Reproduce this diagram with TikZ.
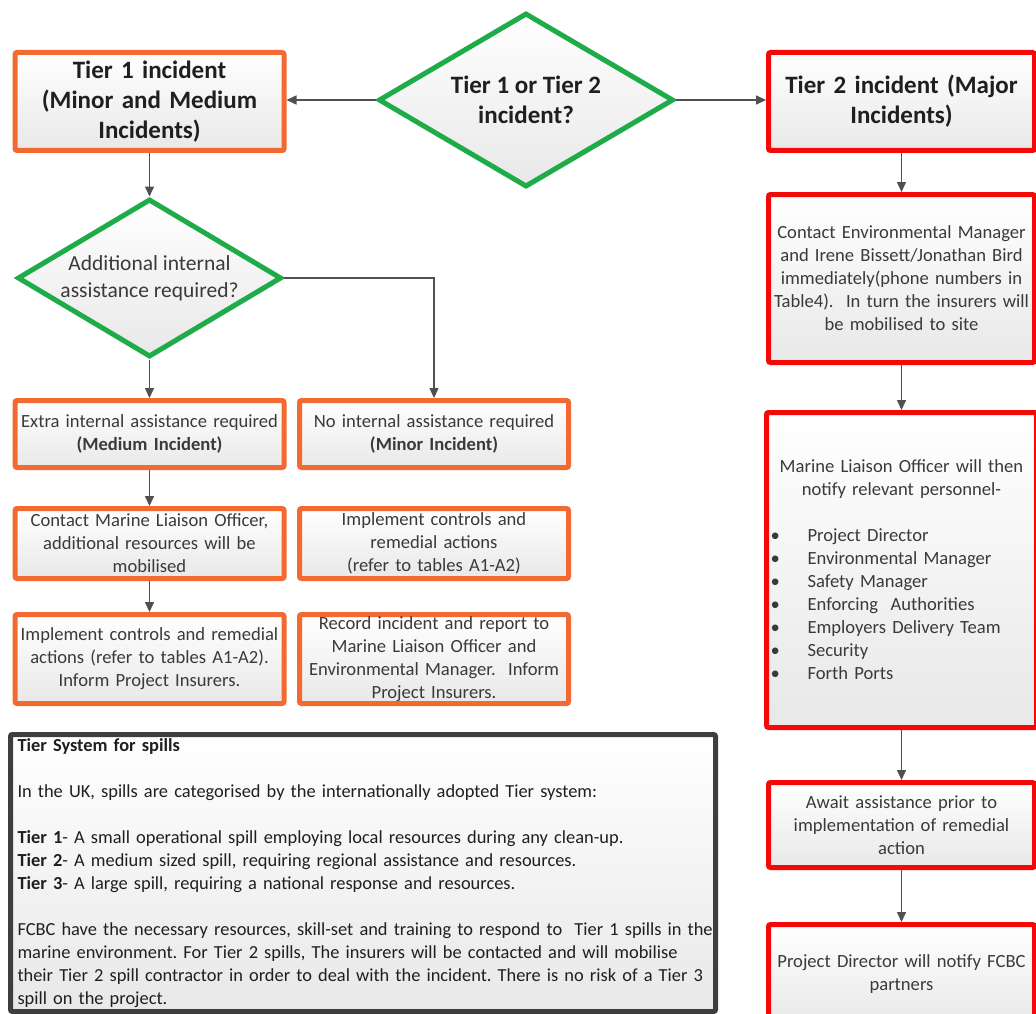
\documentclass[tikz,border=0pt]{standalone}
\usepackage{fontspec}
\setmainfont{Carlito}
\frenchspacing
\usepackage{tikz}
\usetikzlibrary{shapes.geometric}
\usetikzlibrary{arrows.meta,shadows}
\definecolor{tierorange}{RGB}{242,106,50}
\definecolor{tiergreen}{RGB}{30,172,72}
\definecolor{tierred}{RGB}{245,8,8}
\definecolor{notegrey}{RGB}{62,62,62}
\definecolor{linkgrey}{RGB}{80,80,80}
\definecolor{txtgrey}{RGB}{58,58,58}
\tikzstyle{flow}=[
  >={Triangle[length=10pt,width=9pt]},x=1pt,y=-1pt,font=\fontsize{18.6}{23}\selectfont
]
\tikzstyle{flowbox}=[
  rectangle,rounded corners=2pt,line width=5pt,top color=white,bottom color=black!9,
  drop shadow={shadow xshift=2pt,shadow yshift=-2pt,opacity=0.2},
  text=txtgrey,align=center,inner sep=0pt
]
\tikzstyle{minorbox}=[
  flowbox,draw=tierorange,minimum width=269pt,text width=268pt
]
\tikzstyle{majorbox}=[
  flowbox,draw=tierred,minimum width=266pt,text width=265pt
]
\tikzstyle{titletext}=[
  text=black!88,font=\bfseries\fontsize{25}{30}\selectfont
]
\tikzstyle{decision}=[
  diamond,draw=tiergreen,line width=5pt,top color=white,bottom color=black!9,
  drop shadow={shadow xshift=2pt,shadow yshift=-2pt,opacity=0.2},
  align=center,inner sep=0pt,aspect=1.7
]
\tikzstyle{notebox}=[
  flowbox,draw=notegrey,minimum width=705pt,minimum height=277pt,
  text width=705pt,align=left,text=black!88,inner xsep=0pt,
  font=\fontsize{18.4}{23}\selectfont
]
\tikzstyle{flowlink}=[
  ->,line width=1.5pt,draw=linkgrey
]
\newcommand{\blt}{\makebox[37pt][l]{\textbullet}}

\begin{document}
\begin{tikzpicture}[flow]
  \clip (0,0) rectangle (1036,1014);
  \fill[white] (0,0) rectangle (1036,1014);

  % top row
  \node (q) [decision,minimum width=295pt,minimum height=174pt,text=black!88,
    font=\bfseries\fontsize{25}{30}\selectfont] at (526,100)
    {Tier 1 or Tier 2\\ incident?};
  \node (t1) [minorbox,titletext,minimum height=98pt] at (149.5,101.5)
    {Tier 1 incident\\ (Minor and Medium\\ Incidents)};
  \node (t2) [majorbox,titletext,minimum height=98pt] at (901.5,101.5)
    {Tier 2 incident (Major\\ Incidents)};

  % tier 1 branch
  \node (d2) [decision,minimum width=264pt,minimum height=158pt,text=txtgrey,
    font=\fontsize{21.5}{27}\selectfont] at (149.5,278)
    {Additional internal\\ assistance required?};
  \node (ext) [minorbox,minimum height=67pt] at (149.5,434)
    {Extra internal assistance required\\ \textbf{(Medium Incident)}};
  \node (noint) [minorbox,minimum height=67pt] at (434,434)
    {No internal assistance required\\ \textbf{(Minor Incident)}};
  \node (cml) [minorbox,minimum height=70pt] at (149.5,543.5)
    {Contact Marine Liaison Officer,\\ additional resources will be\\ mobilised};
  \node (impa) [minorbox,minimum height=70pt] at (434,543.5)
    {Implement controls and\\ remedial actions\\ (refer to tables A1-A2)};
  \node (impb) [minorbox,minimum height=89pt] at (149.5,659)
    {Implement controls and remedial\\ actions (refer to tables A1-A2).\\ Inform Project Insurers.};
  \node (rec) [minorbox,minimum height=89pt] at (434,659)
    {Record incident and report to\\ Marine Liaison Officer and\\ Environmental Manager.\ \ Inform\\ Project Insurers.};

  % tier 2 branch
  \node (r2) [majorbox,minimum height=168pt] at (901.5,278.5)
    {Contact Environmental Manager\\ and Irene Bissett/Jonathan Bird\\ immediately(phone numbers in\\ Table4).\ \ In turn the insurers will\\ be mobilised to site};
  \node (r3) [majorbox,minimum height=315pt,align=left,inner xsep=4pt,text width=262pt] at (901.5,570)
    {\makebox[262pt][c]{Marine Liaison Officer will then}\\
     \makebox[262pt][c]{notify relevant personnel-}\\[23pt]
     \blt Project Director\\
     \blt Environmental Manager\\
     \blt Safety Manager\\
     \blt Enforcing\ \ Authorities\\
     \blt Employers Delivery Team\\
     \blt Security\\
     \blt Forth Ports};
  \node (r4) [majorbox,minimum height=85pt] at (901.5,825)
    {Await assistance prior to\\ implementation of remedial\\ action};
  \node (r5) [majorbox,minimum height=100pt] at (901.5,974.5)
    {Project Director will notify FCBC\\ partners\\[12pt]};

  % spill tiers note
  \node (note) [notebox] at (363,873)
    {\hspace*{7pt}\textbf{Tier System for spills}\\[23pt]
     \hspace*{7pt}In the UK, spills are categorised by the internationally adopted Tier system:\\[23pt]
     \hspace*{7pt}\textbf{Tier 1}- A small operational spill employing local resources during any clean-up.\\
     \hspace*{7pt}\textbf{Tier 2}- A medium sized spill, requiring regional assistance and resources.\\
     \hspace*{7pt}\textbf{Tier 3}- A large spill, requiring a national response and resources.\\[23pt]
     \hspace*{7pt}FCBC have the necessary resources, skill-set and training to respond to\ \ Tier 1 spills in the\\
     \hspace*{7pt}marine environment. For Tier 2 spills, The insurers will be contacted and will mobilise\\
     \hspace*{7pt}their Tier 2 spill contractor in order to deal with the incident. There is no risk of a Tier 3\\
     \hspace*{7pt}spill on the project.};

  % connectors
  \draw [flowlink] (q.west) -- (t1.east |- q.west);
  \draw [flowlink] (q.east) -- (t2.west |- q.east);
  \draw [flowlink] (t1.south) -- (d2.north);
  \draw [flowlink] (d2.south) -- (ext.north);
  \draw [flowlink] (d2.east) -| (noint.north);
  \draw [flowlink] (ext.south) -- (cml.north);
  \draw [flowlink] (cml.south) -- (impb.north);
  \draw [flowlink] (t2.south) -- (r2.north);
  \draw [flowlink] (r2.south) -- (r3.north);
  \draw [flowlink] (r3.south) -- (r4.north);
  \draw [flowlink] (r4.south) -- (r5.north);
\end{tikzpicture}
\end{document}
